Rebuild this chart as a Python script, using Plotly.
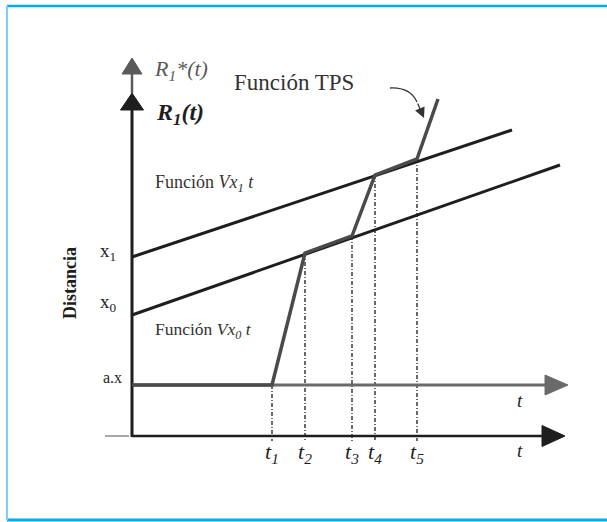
import plotly.graph_objects as go

# Distance/time schematic of a TPS (time-position) function
# Horizontal: time t, vertical: distance (arbitrary units)
t_marks = [140, 173, 220, 243, 285]          # t1..t5
t_labels = ["t<sub>1</sub>", "t<sub>2</sub>", "t<sub>3</sub>", "t<sub>4</sub>", "t<sub>5</sub>"]
d_ax = 51                                    # a.x
d_x0 = 121                                   # x0
d_x1 = 179                                   # x1

# Straight reference functions V_x0 t and V_x1 t
vx1_t = [0, 380]
vx1_d = [179, 306]
vx0_t = [0, 428]
vx0_d = [121, 271]

# TPS function (piecewise path)
tps_t = [0, 140, 173, 220, 243, 285, 306]
tps_d = [51, 51, 183, 200, 261, 277, 337]

# heights where each dash-dot time marker meets the TPS path
mark_top = [51, 183, 200, 261, 277]

X_RANGE = [-132, 475]
Y_RANGE = [-86, 436]
SERIF = "Liberation Serif"
BLACK = "#1e1e1e"
GRAY = "#5a5a5a"

fig = go.Figure()


def line(xs, ys, color, width, dash="solid"):
    fig.add_trace(go.Scatter(x=xs, y=ys, mode="lines", hoverinfo="skip",
                             line=dict(color=color, width=width, dash=dash)))


def head_right(x_tip, y, length, half, color):
    fig.add_trace(go.Scatter(x=[x_tip - length, x_tip, x_tip - length, x_tip - length],
                             y=[y + half, y, y - half, y + half],
                             mode="lines", fill="toself", fillcolor=color,
                             line=dict(color=color, width=1), hoverinfo="skip"))


def head_up(x, y_tip, length, half, color):
    fig.add_trace(go.Scatter(x=[x - half, x, x + half, x - half],
                             y=[y_tip - length, y_tip, y_tip - length, y_tip - length],
                             mode="lines", fill="toself", fillcolor=color,
                             line=dict(color=color, width=1), hoverinfo="skip"))


# time markers (dash-dot)
for tm, top in zip(t_marks, mark_top):
    line([tm, tm], [top, -5], "#3a3a3a", 1.5, dash="4px,2px,1px,2px")

# axes
line([0, 0], [343, 363], GRAY, 2.5)                 # R1*(t) shaft
head_up(0, 378, 16, 10, GRAY)
line([0, 0], [-1, 328], BLACK, 3)                   # R1(t) axis
head_up(0, 343, 17, 11.5, BLACK)
line([-27, -3], [0, 0], "#8a8a8a", 1.5)             # small tick left of origin
line([0, 412], [0, 0], BLACK, 2.5)                  # lower time axis
head_right(433, 0, 23, 10.5, BLACK)
line([0, 415], [d_ax, d_ax], "#6a6a6a", 3)          # shifted time axis
head_right(436, d_ax, 23, 10, "#6a6a6a")

# reference functions
line(vx1_t, vx1_d, BLACK, 3)
line(vx0_t, vx0_d, BLACK, 3)

# TPS path
line(tps_t, tps_d, "#4a4a4a", 3.5)

ann = []


def text(x, y, s, size, color=BLACK, xanchor="left", angle=0):
    ann.append(dict(x=x, y=y, text=s, showarrow=False, xanchor=xanchor,
                    yanchor="middle", textangle=angle,
                    font=dict(family=SERIF, size=size, color=color)))


text(20, 366, "<i>R<sub>1</sub>*(t)</i>", 22, color=GRAY)
text(22, 322, "<b><i>R<sub>1</sub>(t)</i></b>", 24)
text(100, 354, "Función TPS", 23, color="#333333")
text(21, 253, "Función <i>Vx<sub>1</sub> t</i>", 18, color="#333333")
text(21, 106, "Función <i>Vx<sub>0</sub> t</i>", 17.5, color="#333333")
text(-24, d_x1 + 5, "x<sub>1</sub>", 19, xanchor="center")
text(-24, d_x0 + 12, "x<sub>0</sub>", 19, xanchor="center")
text(-20, d_ax + 8, "a.x", 16, xanchor="center")
text(-62, 153, "<b>Distancia</b>", 18, angle=-90, xanchor="center")
text(388, 36, "<i>t</i>", 19, xanchor="center")
text(388, -14, "<i>t</i>", 19, xanchor="center")
for tm, lab in zip(t_marks, t_labels):
    text(tm, -17, "<i>" + lab + "</i>", 22, xanchor="center")

# callout arrow from the TPS label to the TPS path
ann.append(dict(x=292, y=318, ax=-7, ay=-16, axref="pixel", ayref="pixel",
                text="", showarrow=True, arrowhead=2, arrowsize=1.6,
                arrowwidth=1.3, arrowcolor="#333333"))

shapes = [
    dict(type="path", xref="x", yref="y",
         path="M 258 348 Q 278 349 285 334",
         line=dict(color="#333333", width=1.3)),
    # blue frame
    dict(type="line", xref="paper", yref="paper", x0=7 / 607, x1=1, y0=1 - 6 / 522, y1=1 - 6 / 522,
         line=dict(color="#00aeef", width=2.5)),
    dict(type="line", xref="paper", yref="paper", x0=7 / 607, x1=1, y0=1 - 520 / 522, y1=1 - 520 / 522,
         line=dict(color="#00aeef", width=3)),
    dict(type="line", xref="paper", yref="paper", x0=7 / 607, x1=7 / 607, y0=1 - 6 / 522, y1=1 - 520 / 522,
         line=dict(color="#79d2f4", width=2)),
]

fig.update_layout(
    width=607, height=522,
    margin=dict(l=0, r=0, t=0, b=0),
    paper_bgcolor="white", plot_bgcolor="white",
    showlegend=False,
    xaxis=dict(range=X_RANGE, visible=False, fixedrange=True),
    yaxis=dict(range=Y_RANGE, visible=False, fixedrange=True),
    annotations=ann, shapes=shapes,
)

fig.write_html("out.html", config=dict(displayModeBar=False))
